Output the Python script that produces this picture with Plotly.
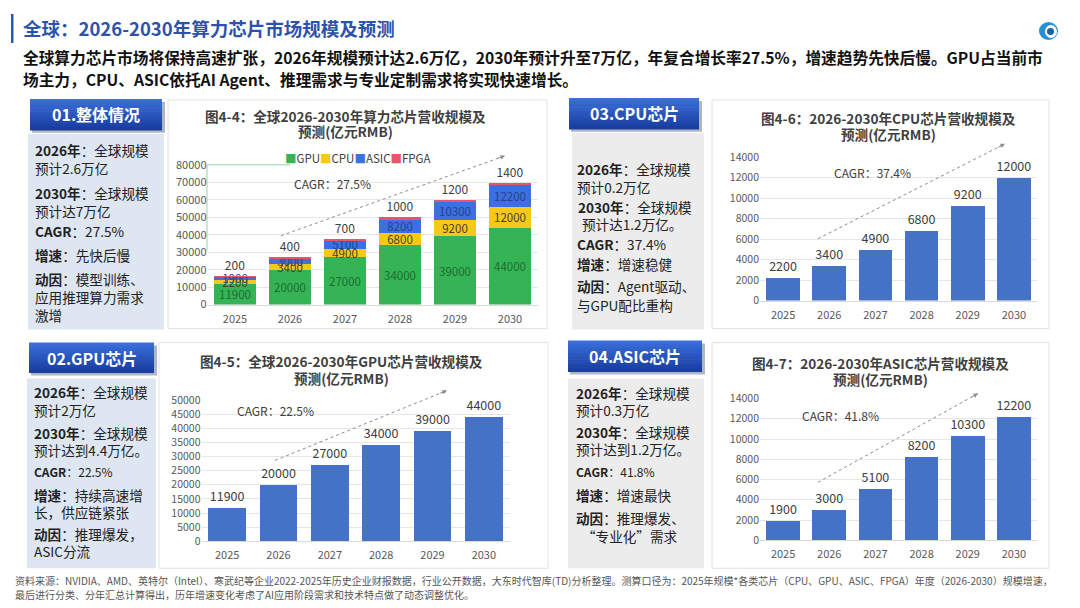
import plotly.graph_objects as go

# ---- data (亿元RMB) ----
years = ["2025", "2026", "2027", "2028", "2029", "2030"]
gpu = [11900, 20000, 27000, 34000, 39000, 44000]
cpu = [2200, 3400, 4900, 6800, 9200, 12000]
asic = [1900, 3000, 5100, 8200, 10300, 12200]
fpga = [200, 400, 700, 1000, 1200, 1400]

series_names = ["GPU", "CPU", "ASIC", "FPGA"]
series_colors = ["#35b455", "#f6c81c", "#3e6fde", "#e5566c"]
label_colors = ["#1f6a36", "#4a4020", "#22438e", "#404040"]

cagr_total = "27.5%"
cagr_cpu = "37.4%"
cagr_gpu = "22.5%"
cagr_asic = "41.8%"

BAR_BLUE = "#4472c4"
FONT = "Noto Sans CJK SC"
W, H = 1080, 608

# page offset / vertical squeeze seen in the rendered screenshot
OX, OY, SY = 8.0, 16.0, 0.975


def px(x):
    return (x - OX) / W


def py(y):
    return 1 - (y - OY) / (SY * H)


fig = go.Figure()

# 图4-4 stacked
stack = [gpu, cpu, asic, fpga]
for i, vals in enumerate(stack):
    last = i == len(stack) - 1
    fig.add_trace(go.Bar(
        x=years,
        y=vals,
        name=series_names[i],
        marker=dict(color=series_colors[i], line=dict(width=0)),
        width=0.76,
        text=vals,
        textposition="outside" if last else "inside",
        insidetextanchor="middle",
        constraintext="none",
        cliponaxis=False,
        textfont=dict(family=FONT, size=12 if last else 11.5, color=label_colors[i]),
        xaxis="x",
        yaxis="y",
        showlegend=False,
        hovertemplate="%{x} " + series_names[i] + ": %{y}<extra></extra>"
    ))

# single-series charts: (values, axis suffix)
singles = [(cpu, "2"), (gpu, "3"), (asic, "4")]
for vals, n in singles:
    fig.add_trace(go.Bar(
        x=years,
        y=vals,
        marker=dict(color=BAR_BLUE, line=dict(width=0)),
        width=0.73,
        text=vals,
        textposition="outside",
        constraintext="none",
        cliponaxis=False,
        textfont=dict(family=FONT, size=12.5, color="#404040"),
        xaxis="x" + n,
        yaxis="y" + n,
        showlegend=False,
        hovertemplate="%{x}: %{y}<extra></extra>"
    ))

tickfont = dict(family=FONT, size=11, color="#595959")


def xaxis_cfg(n, dom):
    return dict(
        domain=dom, anchor="y" + n, type="category",
        showline=True, linecolor="#d9d9d9", linewidth=1,
        showgrid=False, ticks="", tickfont=tickfont, fixedrange=True,
        ticklabelstandoff=4
    )


def yaxis_cfg(n, dom, ymax, dtick, size=11):
    return dict(
        domain=dom, anchor="x" + n, range=[0, ymax], dtick=dtick,
        tickformat="d",
        showgrid=True, gridcolor="#e6e6e6", gridwidth=1, zeroline=False,
        showline=False, ticks="", tickfont=dict(family=FONT, size=size, color="#595959"),
        fixedrange=True
    )


shapes = []
annotations = []


def rect(x0, y0, x1, y1, fill, line=None, layer="below"):
    shapes.append(dict(
        type="rect", xref="paper", yref="paper",
        x0=px(x0), x1=px(x1), y0=py(y1), y1=py(y0),
        fillcolor=fill, line=dict(width=1 if line else 0, color=line or fill),
        layer=layer
    ))


def text(x, y, s, size=13, color="#222222", xanchor="left", bold=False):
    annotations.append(dict(
        x=px(x), y=py(y), xref="paper", yref="paper",
        text=f"<b>{s}</b>" if bold else s, showarrow=False,
        xanchor=xanchor, yanchor="middle", align=xanchor if xanchor != "center" else "center",
        font=dict(family=FONT, size=size, color=color)
    ))


def header(x0, y0, x1, y1, label):
    # shadow
    rect(x0 + 2, y0 + 3, x1 + 3, y1 + 3, "#aeb6c6")
    # vertical gradient by slices
    top, bot = (58, 110, 218), (26, 62, 160)
    n = 10
    h = (y1 - y0) / n
    for i in range(n):
        t = i / (n - 1)
        c = tuple(int(top[k] + (bot[k] - top[k]) * t) for k in range(3))
        rect(x0, y0 + i * h, x1, y0 + (i + 1) * h + 0.6, "rgb(%d,%d,%d)" % c)
    text((x0 + x1) / 2, (y0 + y1) / 2, label, size=16, color="white", xanchor="center", bold=True)


def dotted_arrow(x0, y0, x1, y1):
    shapes.append(dict(
        type="line", xref="paper", yref="paper",
        x0=px(x0), y0=py(y0), x1=px(x1), y1=py(y1),
        line=dict(color="#8c8c8c", width=1, dash="dot"), layer="above"
    ))
    dx, dy = x1 - x0, y1 - y0
    d = (dx ** 2 + dy ** 2) ** 0.5
    annotations.append(dict(
        x=px(x1), y=py(y1), xref="paper", yref="paper", text="",
        showarrow=True, arrowhead=2, arrowsize=0.9, arrowwidth=1,
        arrowcolor="#8c8c8c", ax=-dx / d * 9, ay=-dy / d * 9
    ))


# ---- page title ----
rect(11, 13, 13.5, 42, "#2e55b0")
text(21, 27, "全球：2026-2030年算力芯片市场规模及预测", size=18.5, color="#2d52aa", bold=True)
text(21, 57, "全球算力芯片市场将保持高速扩张，2026年规模预计达2.6万亿，2030年预计升至7万亿，年复合增长率27.5%，增速趋势先快后慢。GPU占当前市",
     size=15.7, color="#111111", bold=True)
text(21, 79, "场主力，CPU、ASIC依托AI Agent、推理需求与专业定制需求将实现快速增长。",
     size=15.7, color="#111111", bold=True)

# logo
shapes.append(dict(type="circle", xref="paper", yref="paper",
                   x0=px(1039), x1=px(1058), y0=py(39), y1=py(21),
                   fillcolor="#2a8ed3", line=dict(width=0), layer="above"))
shapes.append(dict(type="circle", xref="paper", yref="paper",
                   x0=px(1045), x1=px(1057), y0=py(37), y1=py(24),
                   fillcolor="#ffffff", line=dict(width=0), layer="above"))
shapes.append(dict(type="circle", xref="paper", yref="paper",
                   x0=px(1047), x1=px(1054), y0=py(34), y1=py(27),
                   fillcolor="#1b5fa6", line=dict(width=0), layer="above"))

# ---- chart boxes ----
rect(168, 99, 547, 328, "white", "#e2e2e2")
rect(712, 99, 1049, 328, "white", "#e2e2e2")
rect(159, 342, 548, 568, "white", "#e2e2e2")
rect(712, 342, 1049, 568, "white", "#e2e2e2")

# faint green frame at top-left of 图4-4 plot
shapes.append(dict(type="line", xref="paper", yref="paper",
                   x0=px(207), x1=px(290), y0=py(164), y1=py(164),
                   line=dict(color="#b9e2c5", width=1.5), layer="below"))
shapes.append(dict(type="line", xref="paper", yref="paper",
                   x0=px(207), x1=px(207), y0=py(164), y1=py(250),
                   line=dict(color="#b9e2c5", width=1.5), layer="below"))

# ---- side panels ----
LIGHT_BLUE = "#dde6f1"
LIGHT_GRAY = "#ececec"
rect(28, 133, 164, 329, LIGHT_BLUE)
rect(572, 132, 704, 329, LIGHT_GRAY)
rect(27, 378, 156, 568, LIGHT_BLUE)
rect(568, 378, 704, 568, LIGHT_GRAY)

header(30, 98, 162, 129, "01.整体情况")
header(569, 97, 699, 128, "03.CPU芯片")
header(29, 342, 154, 372, "02.GPU芯片")
header(568, 340, 702, 371, "04.ASIC芯片")

PS = 13.6
# panel 01
text(33, 149, "<b>2026年</b>：全球规模", size=PS)
text(33, 167, "预计2.6万亿", size=PS)
text(33, 192, "<b>2030年</b>：全球规模", size=PS)
text(33, 210, "预计达7万亿", size=PS)
text(33, 230, "<b>CAGR</b>：" + cagr_total, size=PS)
text(33, 254, "<b>增速</b>：先快后慢", size=PS)
text(33, 278, "<b>动因</b>：模型训练、", size=PS)
text(33, 296, "应用推理算力需求", size=PS)
text(33, 314, "激增", size=PS)

# panel 03
text(575, 168, "<b>2026年</b>：全球规模", size=PS)
text(575, 186, "预计0.2万亿", size=PS)
text(576, 206, "<b>2030年</b>：全球规模", size=PS)
text(580, 223, "预计达1.2万亿。", size=PS)
text(575, 243, "<b>CAGR</b>：" + cagr_cpu, size=PS)
text(575, 263, "<b>增速</b>：增速稳健", size=PS)
text(575, 285, "<b>动因</b>：Agent驱动、", size=PS)
text(575, 304, "与GPU配比重构", size=PS)

# panel 02
text(32, 392, "<b>2026年</b>：全球规模", size=PS)
text(32, 410, "预计2万亿", size=PS)
text(32, 433, "<b>2030年</b>：全球规模", size=PS)
text(32, 450, "预计达到4.4万亿。", size=PS)
text(32, 471, "<b>CAGR</b>：" + cagr_gpu, size=12)
text(32, 495, "<b>增速</b>：持续高速增", size=PS)
text(32, 512, "长，供应链紧张", size=PS)
text(32, 534, "<b>动因</b>：推理爆发，", size=PS)
text(32, 551, "ASIC分流", size=PS)

# panel 04
text(574, 393, "<b>2026年</b>：全球规模", size=PS)
text(574, 410, "预计0.3万亿", size=PS)
text(574, 432, "<b>2030年</b>：全球规模", size=PS)
text(574, 449, "预计达到1.2万亿。", size=PS)
text(574, 471, "<b>CAGR</b>：" + cagr_asic, size=12)
text(574, 495, "<b>增速</b>：增速最快", size=PS)
text(574, 518, "<b>动因</b>：推理爆发、", size=PS)
text(580, 536, "“专业化”需求", size=PS)

# ---- chart titles ----
TITLE_C = "#404040"
TS = 13.6
text(345, 115, "图4-4：全球2026-2030年算力芯片营收规模及", size=TS, color=TITLE_C, xanchor="center", bold=True)
text(345, 130, "预测(亿元RMB)", size=TS, color=TITLE_C, xanchor="center", bold=True)
text(888, 117, "图4-6：2026-2030年CPU芯片营收规模及", size=TS, color=TITLE_C, xanchor="center", bold=True)
text(888, 133, "预测(亿元RMB)", size=TS, color=TITLE_C, xanchor="center", bold=True)
text(341, 360, "图4-5：全球2026-2030年GPU芯片营收规模及", size=TS, color=TITLE_C, xanchor="center", bold=True)
text(341, 377, "预测(亿元RMB)", size=TS, color=TITLE_C, xanchor="center", bold=True)
text(880, 362, "图4-7：2026-2030年ASIC芯片营收规模及", size=TS, color=TITLE_C, xanchor="center", bold=True)
text(880, 378, "预测(亿元RMB)", size=TS, color=TITLE_C, xanchor="center", bold=True)

# legend for 图4-4
legend_html = "".join(
    f"<span style='color:{c}'>■</span>{n}" for n, c in zip(series_names, series_colors)
)
text(357, 157, legend_html, size=11.5, color="#404040", xanchor="center")

# CAGR notes + dotted trend arrows
text(332, 183, "CAGR：" + cagr_total, size=12, color="#404040", xanchor="center")
dotted_arrow(281, 235, 505, 155)
text(872, 172, "CAGR：" + cagr_cpu, size=12, color="#404040", xanchor="center")
dotted_arrow(818, 238, 1005, 143)
text(275, 410, "CAGR：" + cagr_gpu, size=12, color="#404040", xanchor="center")
dotted_arrow(275, 460, 447, 390)
text(840, 415, "CAGR：" + cagr_asic, size=12, color="#404040", xanchor="center")
dotted_arrow(818, 482, 978, 393)

# ---- footer ----
text(13, 580, "资料来源：NVIDIA、AMD、英特尔（Intel）、寒武纪等企业2022-2025年历史企业财报数据，行业公开数据，大东时代智库(TD)分析整理。测算口径为：2025年规模*各类芯片（CPU、GPU、ASIC、FPGA）年度（2026-2030）规模增速，",
     size=10, color="#555555")
text(13, 594, "最后进行分类、分年汇总计算得出，历年增速变化考虑了AI应用阶段需求和技术特点做了动态调整优化。",
     size=10, color="#555555")

fig.update_layout(
    width=W,
    height=H,
    autosize=False,
    margin=dict(l=0, r=0, t=0, b=0),
    paper_bgcolor="white",
    plot_bgcolor="rgba(0,0,0,0)",
    barmode="stack",
    showlegend=False,
    font=dict(family=FONT),
    xaxis=xaxis_cfg("", [px(207.5), px(537.5)]),
    yaxis=yaxis_cfg("", [py(304), py(164)], 80000, 10000),
    xaxis2=xaxis_cfg("2", [px(760), px(1037)]),
    yaxis2=yaxis_cfg("2", [py(300), py(156.5)], 14000, 2000, 10.5),
    xaxis3=xaxis_cfg("3", [px(201.5), px(509.5)]),
    yaxis3=yaxis_cfg("3", [py(541), py(399.5)], 50000, 5000, 10.5),
    xaxis4=xaxis_cfg("4", [px(760), px(1037)]),
    yaxis4=yaxis_cfg("4", [py(540), py(398)], 14000, 2000, 10.5),
    shapes=shapes,
    annotations=annotations
)

fig.write_html("out.html")
